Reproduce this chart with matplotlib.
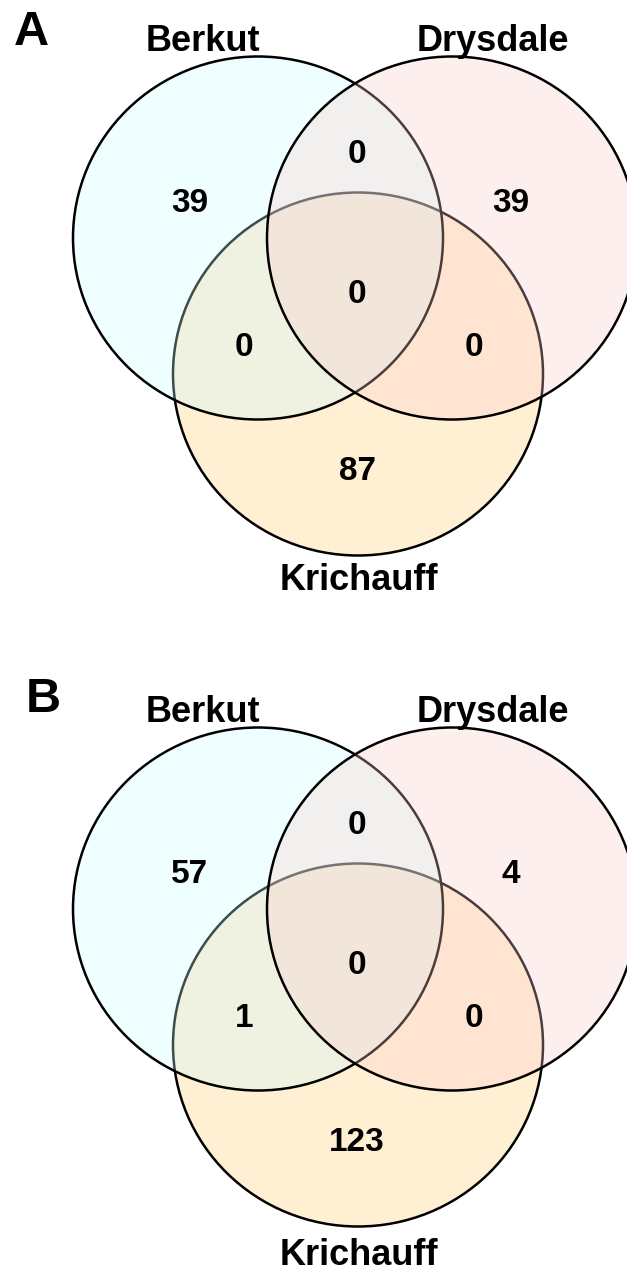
import matplotlib
matplotlib.use("Agg")
import matplotlib.pyplot as plt
from matplotlib.patches import Ellipse

plt.rcParams['font.family'] = ['Liberation Sans', 'DejaVu Sans']

# Data
sets = ['Berkut', 'Drysdale', 'Krichauff']
panels = ['A', 'B']
# region order: B only, D only, B&D, B&K, B&D&K, D&K, K only
regions = ['B', 'D', 'BD', 'BK', 'BDK', 'DK', 'K']
counts_A = [39, 39, 0, 0, 0, 0, 87]
counts_B = [57, 4, 0, 1, 0, 0, 123]

# fill colours (drawn with alpha so overlaps blend)
set_colors = {'Berkut': (205/255, 252/255, 1.0),
              'Drysdale': (252/255, 205/255, 205/255),
              'Krichauff': (1.0, 205/255, 112/255)}
fill_alpha = 0.3

W, H = 627, 1276
fig = plt.figure(figsize=(W / 100, H / 100), dpi=100)
ax = fig.add_axes([0, 0, 1, 1])
ax.set_xlim(0, W)
ax.set_ylim(H, 0)
ax.axis('off')

# layout (pixel coordinates)
panel_offsets = [0, 671]
centers = {'Berkut': (258, 238), 'Drysdale': (452, 238), 'Krichauff': (358, 374)}
ell_w, ell_h = 370, 363
label_pos = {'Berkut': (203, 51), 'Drysdale': (493, 51), 'Krichauff': (359, 590)}
region_pos = {'B': (190, 212), 'D': (511, 212), 'BD': (357, 163), 'BK': (244, 356),
              'BDK': (357, 303), 'DK': (474, 356), 'K': (357, 480)}
letter_pos = [(31, 45), (43, 712)]

draw_order = ['Krichauff', 'Berkut', 'Drysdale']

for p, (panel, counts) in enumerate(zip(panels, [counts_A, counts_B])):
    dy = panel_offsets[p]
    for s in draw_order:
        cx, cy = centers[s]
        e = Ellipse((cx, cy + dy), ell_w, ell_h,
                    facecolor=set_colors[s] + (fill_alpha,),
                    edgecolor='black', linewidth=1.8)
        ax.add_patch(e)
    for s in sets:
        lx, ly = label_pos[s]
        if s == 'Krichauff' and p == 1:
            ly += 4
        ax.text(lx, ly + dy, s, fontsize=26, fontweight='bold',
                ha='center', va='baseline', zorder=5)
    for r, c in zip(regions, counts):
        rx, ry = region_pos[r]
        ax.text(rx, ry + dy, str(c), fontsize=24, fontweight='bold',
                ha='center', va='baseline', zorder=5)
    ax.text(letter_pos[p][0], letter_pos[p][1], panel, fontsize=35,
            fontweight='bold', ha='center', va='baseline', zorder=5)

fig.savefig('out.png', dpi=100, facecolor='white')
